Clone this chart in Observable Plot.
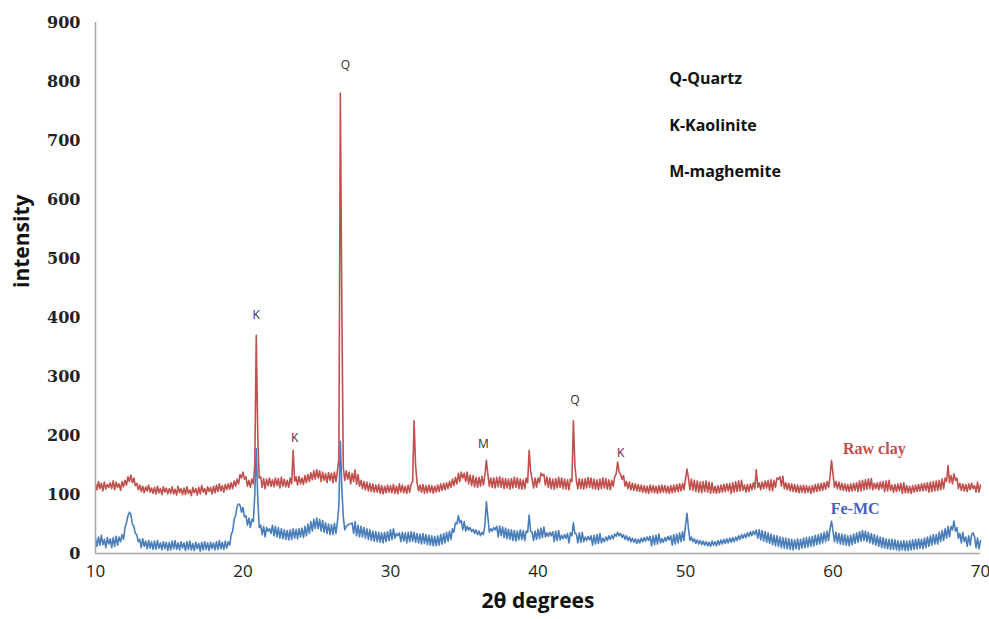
<!DOCTYPE html>
<html>
<head>
<meta charset="utf-8">
<script src="https://cdn.jsdelivr.net/npm/d3@7"></script>
<script src="https://cdn.jsdelivr.net/npm/@observablehq/plot@0.6"></script>
<style>
  html, body { margin: 0; padding: 0; background: #fff; }
  #chart svg { display: block; }
</style>
</head>
<body>
<div id="chart"></div>
<script>
// 2θ grid: 10.0 to 70.0 degrees, step 0.1 (one row per degree)
const xStart = 10;
const xStep = 0.1;

// Raw clay intensities (one row = 10 readings per degree)
const rawClay = [
  118,108,122,110,119,106,121,109,117,112, // 10
  120,110,123,108,121,112,118,107,122,113, // 11
  124,116,130,122,133,120,128,115,119,108, // 12
  116,105,114,103,113,106,116,104,111,102, // 13
  112,101,114,103,110,100,113,104,111,101, // 14
  110,102,113,101,109,99,114,103,110,100,  // 15
  111,100,113,102,108,98,112,103,110,99,   // 16
  112,101,115,104,110,100,113,105,112,101, // 17
  114,103,116,105,118,106,115,104,117,108, // 18
  118,109,120,110,123,114,126,118,134,128, // 19
  138,126,130,114,124,112,126,118,150,370, // 20
  200,128,130,112,127,110,126,115,128,114, // 21
  125,113,128,115,127,111,129,114,126,113, // 22
  124,112,128,118,175,122,130,116,131,118, // 23
  128,117,132,120,134,122,137,125,140,126, // 24
  142,128,140,122,138,124,135,120,137,124, // 25
  136,120,138,122,140,160,780,420,145,124, // 26
  140,126,138,118,136,122,142,117,134,114, // 27
  124,110,122,108,121,106,119,105,118,104, // 28
  116,104,117,102,115,101,114,103,116,104, // 29
  115,103,117,102,114,101,118,104,116,103, // 30
  114,102,116,104,118,122,225,150,120,106, // 31
  116,104,117,102,115,103,116,104,115,102, // 32
  114,104,116,105,118,107,119,108,120,110, // 33
  122,112,126,115,129,118,136,122,138,128, // 34
  136,122,138,118,133,115,132,113,129,112, // 35
  129,114,131,116,133,158,134,114,128,112, // 36
  128,111,129,113,130,112,128,110,127,111, // 37
  126,109,127,111,129,112,128,110,126,109, // 38
  125,110,128,120,175,140,126,111,128,112, // 39
  128,120,136,132,134,116,130,112,128,110, // 40
  126,109,127,111,129,112,128,110,126,109, // 41
  125,108,126,122,225,150,124,110,127,110, // 42
  126,109,127,111,129,112,128,110,126,109, // 43
  125,108,126,110,128,111,127,109,125,108, // 44
  124,114,130,135,155,138,134,126,132,114, // 45
  122,110,121,108,119,107,118,106,117,105, // 46
  116,104,115,103,114,102,116,104,115,103, // 47
  114,102,115,103,116,104,115,103,114,102, // 48
  115,103,116,104,117,105,118,106,119,108, // 49
  126,143,128,108,126,107,124,105,123,104, // 50
  121,103,122,105,123,104,121,102,120,103, // 51
  114,102,115,103,116,104,117,105,118,106, // 52
  119,102,120,104,122,105,123,106,124,107, // 53
  116,104,117,105,118,108,120,110,142,112, // 54
  120,108,121,110,123,111,124,107,125,106, // 55
  124,112,128,126,130,114,131,110,120,108, // 56
  119,106,118,105,117,104,116,103,115,104, // 57
  116,103,115,104,114,102,115,104,117,105, // 58
  118,106,119,107,120,109,122,112,130,158, // 59
  135,112,122,110,121,108,119,107,118,106, // 60
  117,105,118,106,119,107,120,105,123,106, // 61
  124,108,125,109,126,110,127,108,119,110, // 62
  120,108,121,110,122,105,123,106,124,107, // 63
  116,104,117,105,118,106,119,102,120,103, // 64
  115,103,114,102,115,104,116,105,117,106, // 65
  118,106,119,107,120,104,121,105,122,106, // 66
  123,107,124,108,126,110,128,122,149,120, // 67
  132,118,135,124,128,110,119,107,118,106, // 68
  117,105,118,108,119,110,115,104,121,104, // 69
  116                                      // 70
];

// Fe-MC intensities
const feMC = [
  26,12,28,14,31,15,24,10,27,16, // 10
  25,10,27,12,29,14,28,20,32,24, // 11
  44,52,64,70,66,50,46,34,32,20, // 12
  24,10,25,12,21,8,22,9,20,7,    // 13
  21,7,22,9,18,6,20,8,19,5,      // 14
  19,6,21,8,22,7,18,6,20,9,      // 15
  18,5,20,7,21,6,17,5,19,8,      // 16
  17,4,19,6,20,7,18,5,19,8,      // 17
  18,6,20,7,22,8,19,7,21,9,      // 18
  20,14,32,38,58,64,80,84,82,70, // 19
  78,62,64,48,60,44,58,54,100,178, // 20
  95,44,48,32,46,28,44,38,42,34, // 21
  48,30,46,28,44,26,42,25,40,24, // 22
  39,23,40,24,42,26,41,25,42,28, // 23
  43,27,46,30,50,34,54,38,58,42, // 24
  60,42,58,38,56,36,52,34,50,32, // 25
  49,32,51,34,54,80,190,110,62,40, // 26
  46,48,50,50,52,34,54,30,48,28, // 27
  46,28,44,26,42,24,40,22,38,21, // 28
  37,20,36,19,35,18,36,20,37,22, // 29
  40,24,42,26,34,30,35,20,36,21, // 30
  35,18,36,20,37,21,36,19,34,18, // 31
  33,16,34,17,32,15,31,14,30,13, // 32
  29,13,30,14,32,16,34,18,36,21, // 33
  38,24,42,36,52,50,64,52,56,40, // 34
  54,38,46,40,44,37,41,34,40,32, // 35
  38,30,36,32,48,88,62,36,42,38, // 36
  44,40,46,28,47,30,45,27,43,25, // 37
  41,24,40,22,39,21,38,23,40,24, // 38
  39,22,38,36,65,38,36,22,38,24, // 39
  41,25,43,27,45,28,35,29,36,30, // 40
  37,20,38,22,39,23,31,25,32,26, // 41
  34,18,35,30,52,34,33,18,35,19, // 42
  36,20,28,22,29,23,30,14,31,16, // 43
  32,17,34,18,26,20,28,22,30,24, // 44
  31,25,33,29,36,30,34,27,32,24, // 45
  30,22,28,20,26,19,25,17,24,18, // 46
  26,20,27,21,28,22,29,13,30,15, // 47
  31,16,33,18,25,19,27,21,29,23, // 48
  30,14,32,16,33,18,35,20,37,22, // 49
  48,68,42,22,28,20,25,17,23,16, // 50
  22,15,21,14,20,13,19,12,21,14, // 51
  20,13,22,15,23,16,24,17,25,18, // 52
  26,19,27,20,28,22,30,24,32,26, // 53
  33,27,35,29,37,30,38,32,40,26, // 54
  40,23,39,21,37,19,35,17,33,15, // 55
  31,13,30,12,28,10,27,9,26,8,   // 56
  25,7,24,6,23,8,25,7,24,9,      // 57
  26,10,27,11,28,12,29,13,31,15, // 58
  32,16,34,18,36,20,38,22,42,55, // 59
  38,20,36,18,34,16,33,15,32,14, // 60
  30,13,31,15,33,17,35,19,37,21, // 61
  39,22,38,20,36,18,34,16,32,14, // 62
  30,12,28,10,27,9,25,8,24,7,    // 63
  24,7,23,6,22,5,21,6,22,5,      // 64
  21,5,22,6,23,7,24,8,25,9,      // 65
  24,8,26,10,28,12,30,14,32,16,  // 66
  32,16,36,20,39,22,42,26,46,28, // 67
  46,40,55,38,44,26,34,18,36,20, // 68
  28,12,30,14,32,35,28,10,26,8,  // 69
  22                             // 70
];

const xTicks = [10, 20, 30, 40, 50, 60, 70];
const yTicks = [0, 100, 200, 300, 400, 500, 600, 700, 800, 900];

// Peak labels
const peakLabels = ["Q", "K", "K", "M", "Q", "K"];
const peakX      = [26.95, 20.9, 23.5, 36.3, 42.5, 45.6];
const peakY      = [827, 404, 196, 186, 260, 170];

// Phase key
const keyLabels = ["Q-Quartz", "K-Kaolinite", "M-maghemite"];
const keyX = [48.9, 48.9, 48.9];
const keyY = [805, 725, 647];

// Series
const seriesNames  = ["Raw clay", "Fe-MC"];
const lineColors   = ["#c0504d", "#4a7ebb"];
const labelColors  = ["#c0504d", "#4660c2"];
const seriesLabelX = [62.8, 61.5];
const seriesLabelY = [178, 76];

const rawData = rawClay.map((v, i) => ({x: +(xStart + i * xStep).toFixed(1), y: v}));
const feData  = feMC.map((v, i) => ({x: +(xStart + i * xStep).toFixed(1), y: v}));

const sans = "'Open Sans', 'Noto Sans', sans-serif";

const chart = Plot.plot({
  width: 989,
  height: 619,
  marginLeft: 95,
  marginRight: 9,
  marginTop: 22,
  marginBottom: 66,
  style: {background: "#fff", overflow: "visible"},
  x: {domain: [10, 70]},
  y: {domain: [0, 900]},
  marks: [
    Plot.axisY({ticks: yTicks, tickSize: 0, tickPadding: 15, label: null,
      fontFamily: "'DejaVu Serif', serif", fontWeight: "bold", fontSize: 16, fill: "#222"}),
    Plot.axisX({ticks: xTicks, tickSize: 0, tickPadding: 11, label: null,
      fontFamily: "'Liberation Sans Narrow', 'Open Sans', sans-serif", fontSize: 17, fill: "#222"}),
    Plot.line(rawData, {x: "x", y: "y", stroke: lineColors[0], strokeWidth: 1.6}),
    Plot.line(feData,  {x: "x", y: "y", stroke: lineColors[1], strokeWidth: 1.6}),
    Plot.ruleX([10], {stroke: "#a6a6a6", strokeWidth: 1.5}),
    Plot.ruleY([0],  {stroke: "#a6a6a6", strokeWidth: 1.5}),
    Plot.text(peakLabels, {x: (d, i) => peakX[i], y: (d, i) => peakY[i], text: d => d,
      fontFamily: sans, fontSize: 12, fill: "#333"}),
    Plot.text(keyLabels, {x: (d, i) => keyX[i], y: (d, i) => keyY[i], text: d => d,
      textAnchor: "start", fontFamily: sans, fontWeight: "bold", fontSize: 16, fill: "#111"}),
    Plot.text(seriesNames, {x: (d, i) => seriesLabelX[i], y: (d, i) => seriesLabelY[i], text: d => d,
      fill: (d, i) => labelColors[i], fontFamily: "'Liberation Serif', serif", fontWeight: "bold", fontSize: 16}),
    Plot.text(["intensity"], {frameAnchor: "left", rotate: -90, dx: -73, text: d => d,
      fontFamily: sans, fontWeight: "bold", fontSize: 21, fill: "#111"}),
    Plot.text(["2θ degrees"], {frameAnchor: "bottom", dy: 54, text: d => d,
      fontFamily: sans, fontWeight: "bold", fontSize: 21, fill: "#111"})
  ]
});

document.getElementById("chart").appendChild(chart);
</script>
</body>
</html>
